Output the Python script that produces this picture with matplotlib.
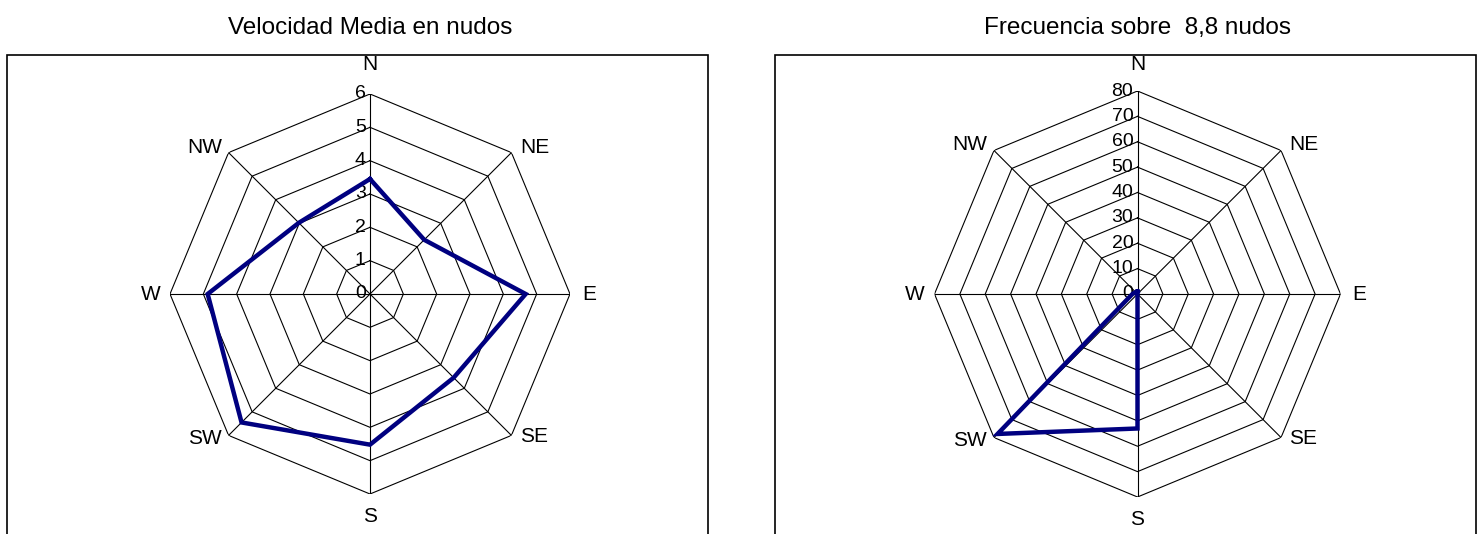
import numpy as np
import matplotlib
matplotlib.use('Agg')
import matplotlib.pyplot as plt
from matplotlib.patches import Rectangle

plt.rcParams['font.family'] = ['Liberation Sans', 'DejaVu Sans']

# Data
directions = ['N', 'NE', 'E', 'SE', 'S', 'SW', 'W', 'NW']
speed_knots = [3.45, 2.3, 4.67, 3.55, 4.52, 5.45, 4.87, 3.02]
speed_ticks = [0, 1, 2, 3, 4, 5, 6]
freq_over = [1, 0, 0, 0, 53, 78, 2, 1]
freq_ticks = [0, 10, 20, 30, 40, 50, 60, 70, 80]

W, H = 1483, 534
DPI = 100


def radar(fig, cx, cy, rad, values, ticks, title, box_x0, box_x1, n_off):
    # place the polar axes so its centre lands at (cx, cy) pixels from top-left
    ax = fig.add_axes([(cx - rad) / W, (H - cy - rad) / H, 2 * rad / W, 2 * rad / H],
                      projection='polar')
    ax.set_theta_zero_location('N')
    ax.set_theta_direction(-1)
    ax.grid(False)
    ax.spines['polar'].set_visible(False)
    ax.set_xticks([])
    ax.set_yticks([])
    ax.patch.set_alpha(0)
    rmax = ticks[-1]
    ax.set_ylim(0, rmax)

    angles = np.deg2rad(np.arange(len(directions)) * 360 / len(directions))
    closed = np.append(angles, angles[0])

    # octagon rings
    for t in ticks[1:]:
        ax.plot(closed, [t] * len(closed), color='black', lw=0.8, zorder=1)
    # spokes
    for a in angles:
        ax.plot([a, a], [0, rmax], color='black', lw=0.8, zorder=1)

    # tick labels along the N spoke
    for t in ticks:
        ax.annotate(str(t), (0, t), xytext=(-3, 0), textcoords='offset points',
                    ha='right', va='center', fontsize=14, zorder=3)

    # direction labels
    offs = {'N': (0, n_off, 'center'), 'NE': (6, 4, 'left'), 'E': (8.5, 0, 'left'),
            'SE': (6, -1, 'left'), 'S': (0, -16, 'center'), 'SW': (-5, -2, 'right'),
            'W': (-7, 0, 'right'), 'NW': (-4.5, 4, 'right')}
    for d, a in zip(directions, angles):
        dx, dy, ha = offs[d]
        ax.annotate(d, (a, rmax), xytext=(dx, dy), textcoords='offset points',
                    ha=ha, va='center', fontsize=15, annotation_clip=False)

    vals = list(values) + [values[0]]
    ax.plot(closed, vals, color='#000080', lw=3.2, zorder=4, solid_joinstyle='miter')

    # panel frame
    fig.add_artist(Rectangle((box_x0 / W, -0.1), (box_x1 - box_x0) / W, (H - 55) / H + 0.1,
                             transform=fig.transFigure, fill=False, edgecolor='black',
                             lw=1.2, clip_on=False))
    fig.text(cx / W, 1 - 28 / H, title, ha='center', va='center', fontsize=17.5)
    return ax


fig = plt.figure(figsize=(W / DPI, H / DPI), dpi=DPI)
radar(fig, 370, 294, 200, speed_knots, speed_ticks, 'Velocidad Media en nudos', 7, 708, 21.5)
radar(fig, 1137.5, 294, 203, freq_over, freq_ticks, 'Frecuencia sobre  8,8 nudos', 775, 1476, 19)
fig.savefig('out.png', dpi=DPI)
